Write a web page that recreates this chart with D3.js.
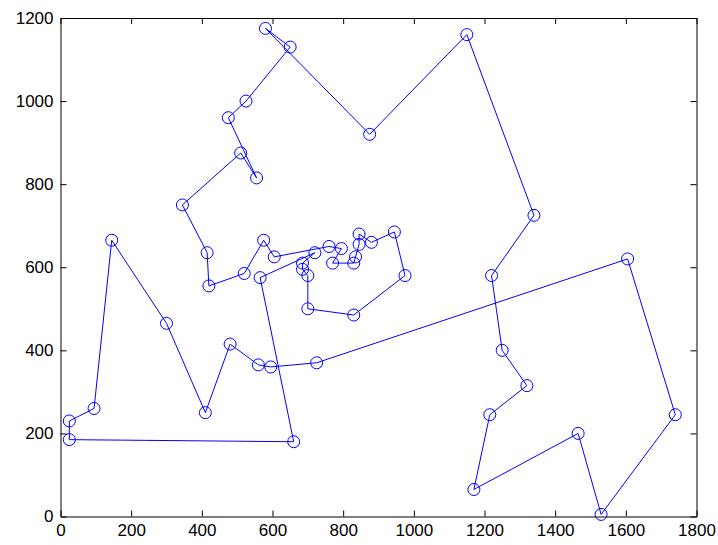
<!DOCTYPE html>
<meta charset="utf-8">
<html>
  <head>
    <style>
      body { margin: 0; background: #fff; }
      .tour { fill: none; stroke: #0000ff; stroke-width: 1px; }
      .stop { fill: none; stroke: #0000ff; stroke-width: 1px; }
      .axis text { font-family: "Liberation Sans", Arial, sans-serif; font-size: 17px; fill: #000; }
      .axis path, .axis line { stroke: #000; stroke-width: 1px; }
    </style>
  </head>
  <body>
    <script src="https://d3js.org/d3.v7.min.js"></script>
    <script>
      // tour order, city coordinates
      var xs = [565, 720, 685, 685, 700, 700, 830, 975, 945, 880, 845, 845, 835, 830, 770, 795, 760,
                605, 575, 520, 420, 415, 345, 510, 555, 475, 525, 650, 580, 875, 1150, 1340, 1220,
                1250, 1320, 1215, 1170, 1465, 1530, 1740, 1605, 725, 595, 560, 480, 410, 300, 145,
                95, 25, 25, 660];
      var ys = [575, 635, 610, 595, 580, 500, 485, 580, 685, 660, 680, 655, 625, 610, 610, 645, 650,
                625, 665, 585, 555, 635, 750, 875, 815, 960, 1000, 1130, 1175, 920, 1160, 725, 580,
                400, 315, 245, 65, 200, 5, 245, 620, 370, 360, 365, 415, 250, 465, 665,
                260, 230, 185, 180];
      var xTicks = [0, 200, 400, 600, 800, 1000, 1200, 1400, 1600, 1800];
      var yTicks = [0, 200, 400, 600, 800, 1000, 1200];

      var W = 718, H = 545;
      var margin = {top: 18, right: 21.5, bottom: 28.5, left: 60.5};
      var width = W - margin.left - margin.right,
          height = H - margin.top - margin.bottom;

      var x = d3.scaleLinear().domain([0, 1800]).range([0, width]);
      var y = d3.scaleLinear().domain([0, 1200]).range([height, 0]);
      var fmt = d3.format("d");

      var svg = d3.select("body").append("svg")
          .attr("width", W)
          .attr("height", H)
        .append("g")
          .attr("transform", "translate(" + margin.left + "," + margin.top + ")");

      var pts = xs.map(function(d, i) { return [d, ys[i]]; });

      svg.append("path")
          .datum(pts.concat([pts[0]]))
          .attr("class", "tour")
          .attr("d", d3.line()
            .x(function(d) { return x(d[0]); })
            .y(function(d) { return y(d[1]); }));

      svg.selectAll(".stop")
          .data(pts)
        .enter().append("circle")
          .attr("class", "stop")
          .attr("r", 6)
          .attr("cx", function(d) { return x(d[0]); })
          .attr("cy", function(d) { return y(d[1]); });

      // box with inward ticks on all sides
      svg.append("g")
          .attr("class", "axis")
          .attr("transform", "translate(0," + height + ")")
          .call(d3.axisBottom(x).tickValues(xTicks).tickFormat(fmt).tickSize(-6).tickSizeOuter(0).tickPadding(7));

      svg.append("g")
          .attr("class", "axis")
          .call(d3.axisTop(x).tickValues(xTicks).tickSize(-6).tickSizeOuter(0).tickFormat(""));

      svg.append("g")
          .attr("class", "axis")
          .call(d3.axisLeft(y).tickValues(yTicks).tickFormat(fmt).tickSize(-6).tickSizeOuter(0).tickPadding(7));

      svg.append("g")
          .attr("class", "axis")
          .attr("transform", "translate(" + width + ",0)")
          .call(d3.axisRight(y).tickValues(yTicks).tickSize(-6).tickSizeOuter(0).tickFormat(""));
    </script>
  </body>
</html>
